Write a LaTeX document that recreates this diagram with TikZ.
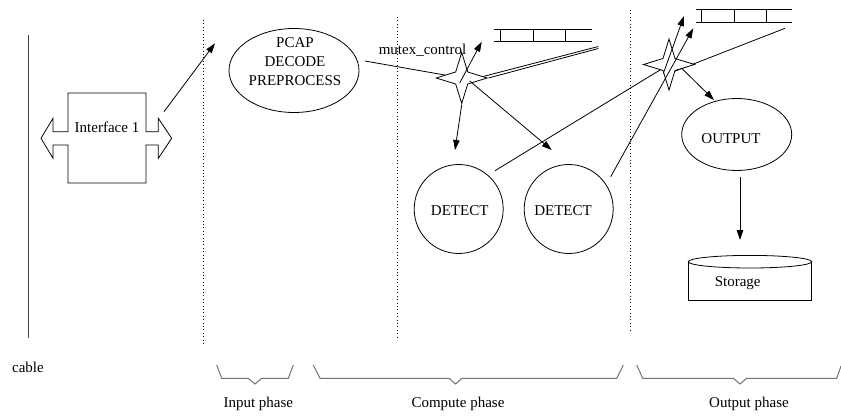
\documentclass[tikz,border=0pt]{standalone}
\usepackage{fontspec}
\setmainfont{Liberation Serif}
\usetikzlibrary{arrows.meta,shapes.geometric,calc}
\pgfdeclarelayer{under}
\pgfsetlayers{under,main}
\begin{document}
\begin{tikzpicture}[x=1pt,y=-1pt,
  every node/.style={font=\fontsize{15}{19}\selectfont, inner sep=0pt},
  conn/.style={line width=0.8pt},
  arr/.style={conn,-{Triangle[length=10pt,width=6.5pt]}},
  phasesep/.style={dash pattern=on 1pt off 2.4pt, line width=0.8pt},
  phasebrace/.style={draw=black!55, line width=1pt},
  mutexstar/.style={star, star points=4, star point ratio=3.0, minimum size=51pt,
                    inner sep=0pt, draw, fill=white, line width=0.8pt}]
\useasboundingbox (0,0) rectangle (841,417);

% cable
\draw[line width=1pt, black!75] (28,35) -- (28,338);
\node[anchor=base] (cable) at (28,372) {cable};

% phase separators
\draw[phasesep] (203,20) -- (203,345);
\draw[phasesep] (397,17) -- (397,338);
\draw[phasesep] (630,10) -- (630,332);

% network interface with its two-way arrow
\node (iface) at (107,127.5) {Interface 1};
\draw[conn] (68,93) -- (146,93) -- (146,131.7) -- (158.3,131.7) -- (158.3,118.3)
  -- (171.7,138.3) -- (158.3,158.3) -- (158.3,145) -- (146,145) -- (146,183)
  -- (68,183) -- (68,145) -- (53,145) -- (53,158.3) -- (41,138.3) -- (53,118.3)
  -- (53,131.7) -- (68,131.7) -- cycle;

% input stage
\node[draw, conn, ellipse, minimum width=130pt, minimum height=84pt] (pcap) at (294,70.5) {};
\node[align=center] (pcaptext) at (295,62) {PCAP\\DECODE\\PREPROCESS};
\coordinate (ifout) at (164,111.7);
\coordinate (pcapin) at (215,43.3);
\draw[arr] (ifout) -- (pcapin);

% queues
\draw[conn] (494.3,29) -- (591.7,29) (494.3,41.7) -- (591.7,41.7)
  (500,29) -- (500,41.7) (533.3,29) -- (533.3,41.7) (565.7,29) -- (565.7,41.7);
\draw[conn] (695.7,9.3) -- (791.7,9.3) (695.7,22.3) -- (791.7,22.3)
  (701.7,9.3) -- (701.7,22.3) (734,9.3) -- (734,22.3) (766,9.3) -- (766,22.3);

\node[anchor=base] (mutex) at (422.5,55) {mutex\_control};

% mutex stars
\node[mutexstar] (star1) at (461.7,78) {};
\node[mutexstar] (star2) at (669,64.5) {};

% compute and output nodes
\node[draw, conn, circle, minimum size=89pt] (det1) at (458.7,209) {};
\node (det1text) at (459.7,210.7) {DETECT};
\node[draw, conn, circle, minimum size=89pt] (det2) at (568.7,209) {};
\node (det2text) at (563,210.7) {DETECT};
\node[draw, conn, ellipse, minimum width=110pt, minimum height=72pt] (out) at (736.7,134.5) {};
\node (outtext) at (731,139) {OUTPUT};

% storage cylinder
\draw[conn] (688.3,261.7) -- (688.3,300) -- (811.7,300) -- (811.7,261.7);
\draw[conn] (750,261.7) ellipse [x radius=61.7, y radius=6.3];
\node (storage) at (737.7,282.7) {Storage};

% free ends of the connectors
\coordinate (pcapout) at (365,61);
\coordinate (q1outa) at (598.3,46.5);
\coordinate (q1outb) at (598.3,48.5);
\coordinate (d1out) at (495,170.7);
\coordinate (q2out) at (785,28.3);
\coordinate (s1up) at (481.7,41.7);
\coordinate (d1in) at (455,150);
\coordinate (d2in) at (551.7,150);
\coordinate (s2up) at (684,16);
\coordinate (d2out) at (610.7,176.7);
\coordinate (q2in) at (693.3,28.3);
\coordinate (outin) at (714,100);
\coordinate (outbot) at (740,177.3);
\coordinate (storein) at (740,240);

% connectors that run beneath the stars
\begin{pgfonlayer}{under}
\draw[conn] (pcapout) -- (star1.center);
\draw[conn] (q1outa) -- ($(star1.center)+(8,2)$);
\draw[conn] (q1outb) -- (star1.outer point 4);
\draw[conn] (d1out) -- (star2.center);
\draw[conn] (q2out) -- ($(star2.center)+(0,9)$);
\end{pgfonlayer}

% connectors drawn over the stars
\draw[arr] ($(star1.center)+(-2,5)$) -- (s1up);
\draw[arr] (star1.outer point 3) -- (d1in);
\draw[arr] ($(star1.center)+(8,3)$) -- (d2in);
\draw[arr] ($(star2.center)+(-5.7,9)$) -- (s2up);
\draw[arr] (d2out) -- (q2in);
\draw[arr] ($(star2.center)+(12.7,3.8)$) -- (outin);
\draw[arr] (outbot) -- (storein);

% phase braces
\draw[phasebrace] (216.7,365) -- (221.7,378.3) -- (248.3,378.3) -- (255,384)
  -- (261.7,378.3) -- (288.3,378.3) -- (293.3,365);
\draw[phasebrace] (313.3,365) -- (320,378.3) -- (449,378.3) -- (455.5,384)
  -- (462,378.3) -- (616.7,378.3) -- (623.3,365);
\draw[phasebrace] (636.7,365) -- (642.7,378.3) -- (733.3,378.3) -- (740,384)
  -- (746.7,378.3) -- (836.7,378.3) -- (841,366);
\node (inlabel) at (258.3,404) {Input phase};
\node (complabel) at (458,404) {Compute phase};
\node (outlabel) at (749,404) {Output phase};
\end{tikzpicture}
\end{document}
